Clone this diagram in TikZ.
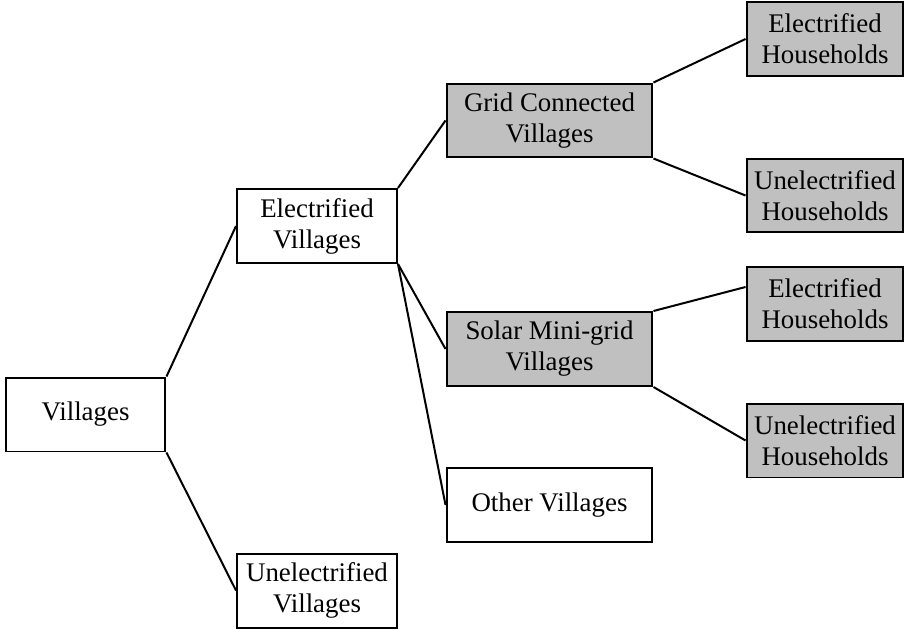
\documentclass[tikz,border=0pt]{standalone}
\usepackage{fontspec}
\setmainfont{Liberation Serif}
\usetikzlibrary{positioning}
\definecolor{boxgray}{RGB}{192,192,192}

\begin{document}
\begin{tikzpicture} [
						x=0.02cm, y=-0.02cm,
						box/.style={draw, line width=0.04cm, align=center, inner sep=0pt,
							minimum height=1.48cm, font=\fontsize{15.3}{17.6}\selectfont},
						shaded/.style={box, fill=boxgray},
						link/.style={draw, line width=0.04cm}
					]

\useasboundingbox (0,0) rectangle (906,629);

\node (vil) [box, minimum width=3.2cm] at (85.5,414.5) {Villages};
\node (ev)  [box, minimum width=3.2cm] at (317,226) {Electrified\\Villages};
\node (uv)  [box, minimum width=3.2cm] at (317,590.5) {Unelectrified\\Villages};

\node (gc)  [shaded, minimum width=4.12cm] at (549.5,120.5) {Grid Connected\\Villages};
\node (sm)  [shaded, minimum width=4.12cm] at (549.5,349) {Solar Mini-grid\\Villages};
\node (ov)  [box, minimum width=4.12cm] at (549.5,505) {Other Villages};

\node (eh1) [shaded, minimum width=3.14cm] at (825,39) {Electrified\\Households};
\node (uh1) [shaded, minimum width=3.14cm] at (825,195.5) {Unelectrified\\Households};
\node (eh2) [shaded, minimum width=3.14cm] at (825,304) {Electrified\\Households};
\node (uh2) [shaded, minimum width=3.14cm] at (825,440.5) {Unelectrified\\Households};

\path[link]
	(vil.north east) edge (ev.west)
	(vil.south east) edge (uv.west)
	(ev.north east)  edge (gc.west)
	(ev.south east)  edge (sm.west)
	(ev.south east)  edge (ov.west)
	(gc.north east)  edge (eh1.west)
	(gc.south east)  edge (uh1.west)
	(sm.north east)  edge ([yshift=0.34cm]eh2.west)
	(sm.south east)  edge (uh2.west);

\end{tikzpicture}
\end{document}
